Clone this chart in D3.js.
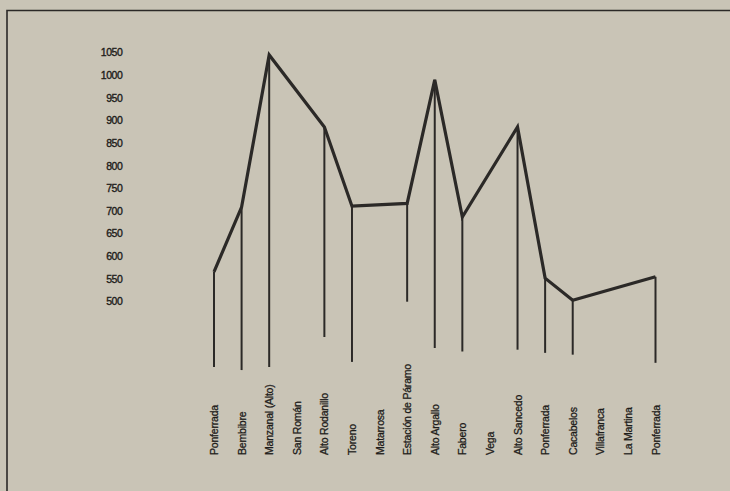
<!DOCTYPE html>
<html>
<head>
<meta charset="utf-8">
<script src="https://cdn.jsdelivr.net/npm/d3@7"></script>
<style>
  body { margin: 0; background: #c9c4b6; }
  svg { display: block; }
</style>
</head>
<body>
<div id="chart"></div>
<script>
// stations along the route, in order
let stations = ["Ponferrada", "Bembibre", "Manzanal (Alto)", "San Román", "Alto Rodanillo",
  "Toreno", "Matarrosa", "Estación de Páramo", "Alto Argallo", "Fabero", "Vega",
  "Alto Sancedo", "Ponferrada", "Cacabelos", "Villafranca", "La Martina", "Ponferrada"];
// altitude (m) where the profile has a vertex, null where it just passes
let altitude = [566, 709, 1045, null, 886, 711, null, 717, 990, 687, null, 886, 552, 503, null, null, 555];
// lower end of each drop line, in the same metres, null = no drop line
let dropEnd = [356, 349, 356, null, 422, 367, null, 500, 398, 390, null, 394, 387, 383, null, null, 365];
let ticks = [1050, 1000, 950, 900, 850, 800, 750, 700, 650, 600, 550, 500];

let width = 730, height = 491;
let ink = "#2b2927";
let font = "'Liberation Sans Narrow', 'Liberation Sans', Arial, sans-serif";

let svg = d3.select("#chart").append("svg")
  .attr("width", width)
  .attr("height", height);

svg.append("rect")
  .attr("width", width).attr("height", height)
  .attr("fill", "#c9c4b6");

// frame of the clipping
svg.append("path")
  .attr("d", "M7," + height + "V10.5H" + width)
  .attr("fill", "none")
  .attr("stroke", ink)
  .attr("stroke-width", 1.6);

let x = d3.scalePoint()
  .domain(d3.range(stations.length))
  .range([214, 655.5]);

let y = d3.scaleLinear()
  .domain([500, 1050])
  .range([301.7, 52.7]);

// altitude labels
svg.append("g").selectAll("text")
  .data(ticks)
  .join("text")
  .attr("x", 122.5)
  .attr("y", d => y(d))
  .attr("dy", "0.35em")
  .attr("text-anchor", "end")
  .style("font-family", font)
  .style("font-size", "10.5px")
  .style("letter-spacing", "-0.4px")
  .attr("fill", "#1e1c1a")
  .attr("stroke", "#1e1c1a")
  .attr("stroke-width", 0.35)
  .text(d => d);

// drop lines
let drops = d3.range(stations.length).filter(i => dropEnd[i] != null);
svg.append("g").selectAll("line")
  .data(drops)
  .join("line")
  .attr("x1", i => x(i)).attr("x2", i => x(i))
  .attr("y1", i => y(altitude[i]))
  .attr("y2", i => y(dropEnd[i]))
  .attr("stroke", ink)
  .attr("stroke-width", 2);

// profile
let pts = d3.range(stations.length).filter(i => altitude[i] != null);
let line = d3.line()
  .x(i => x(i))
  .y(i => y(altitude[i]));
svg.append("path")
  .datum(pts)
  .attr("d", line)
  .attr("fill", "none")
  .attr("stroke", ink)
  .attr("stroke-width", 3.2)
  .attr("stroke-linejoin", "miter");

// station names, read bottom to top
svg.append("g").selectAll("text")
  .data(stations)
  .join("text")
  .attr("transform", (d, i) => "translate(" + (x(i) + 4) + ",455) rotate(-90)")
  .attr("text-anchor", "start")
  .style("font-family", font)
  .style("font-size", "10.5px")
  .style("letter-spacing", "-0.2px")
  .attr("fill", "#1e1c1a")
  .attr("stroke", "#1e1c1a")
  .attr("stroke-width", 0.3)
  .text(d => d);
</script>
</body>
</html>
